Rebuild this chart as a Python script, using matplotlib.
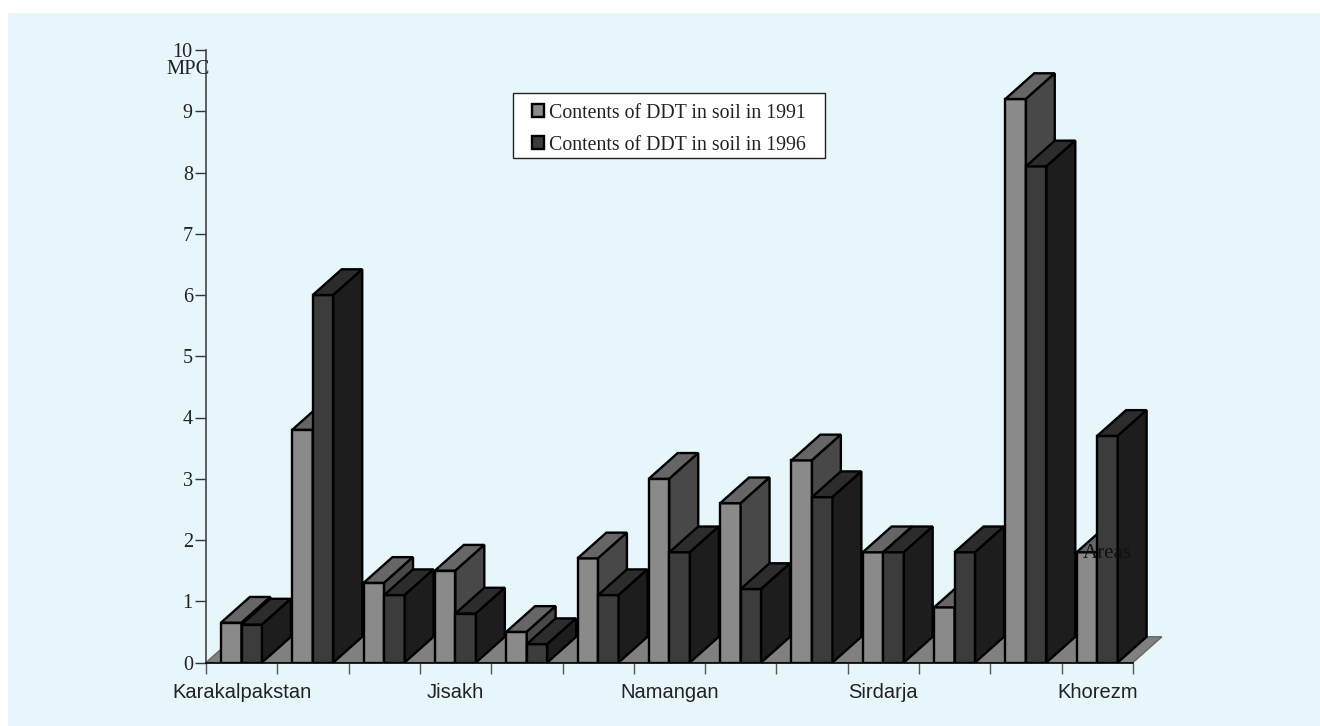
import matplotlib
matplotlib.use("Agg")
import matplotlib.pyplot as plt
from matplotlib.patches import Patch, Polygon, Rectangle

# DDT in soil, in units of MPC, per area
values_1991 = [0.65, 3.8, 1.3, 1.5, 0.5, 1.7, 3.0, 2.6, 3.3, 1.8, 0.9, 9.2, 1.8]
values_1996 = [0.62, 6.0, 1.1, 0.8, 0.3, 1.1, 1.8, 1.2, 2.7, 1.8, 1.8, 8.1, 3.7]
area_labels = ["Karakalpakstan", "", "", "Jisakh", "", "", "Namangan", "", "", "Sirdarja", "", "", "Khorezm"]
y_ticks = [0, 1, 2, 3, 4, 5, 6, 7, 8, 9, 10]

SERIF = "Liberation Serif"
SANS = "Liberation Sans"

colors_1991 = {"front": "#8a8a8a", "top": "#666666", "side": "#484848"}
colors_1996 = {"front": "#3c3c3c", "top": "#2c2c2c", "side": "#1d1d1d"}

# depth of the fake 3d projection, in data units
DX = 0.405
DY = 0.42
BAR_W = 0.288
BAR_OFF = 0.21


def draw_bar(ax, x, h, colors):
    ax.bar(x, h, BAR_W, align="edge", color=colors["front"], edgecolor="black", linewidth=1.7, zorder=3)
    top = [(x, h), (x + DX, h + DY), (x + BAR_W + DX, h + DY), (x + BAR_W, h)]
    side = [(x + BAR_W, 0), (x + BAR_W + DX, DY), (x + BAR_W + DX, h + DY), (x + BAR_W, h)]
    ax.add_patch(Polygon(top, facecolor=colors["top"], edgecolor="black", linewidth=1.7, zorder=3, clip_on=False))
    ax.add_patch(Polygon(side, facecolor=colors["side"], edgecolor="black", linewidth=1.7, zorder=3, clip_on=False))


fig = plt.figure(figsize=(13.2, 7.26), dpi=100, facecolor="white")
# panel behind the chart runs off the right and bottom edges
fig.add_artist(Rectangle((8 / 1320, 0), 1312 / 1320, 1 - 13 / 726, transform=fig.transFigure,
                         facecolor="#e6f6fb", edgecolor="none", zorder=-1))

ax = fig.add_axes([206 / 1320, 1 - 662.5 / 726, 927 / 1320, 612.5 / 726])
ax.patch.set_visible(False)
n = len(values_1991)
ax.set_xlim(0, n)
ax.set_ylim(0, 10)

# floor of the chart
floor = [(0, 0), (DX, DY), (n + DX, DY), (n, 0)]
ax.add_patch(Polygon(floor, facecolor="#808080", edgecolor="#666666", linewidth=1, zorder=1, clip_on=False))

for i in range(n):
    draw_bar(ax, i + BAR_OFF, values_1991[i], colors_1991)
    draw_bar(ax, i + BAR_OFF + BAR_W, values_1996[i], colors_1996)

for s in ["top", "right"]:
    ax.spines[s].set_visible(False)
ax.spines["left"].set_color("#444444")
ax.spines["left"].set_linewidth(1.2)
ax.spines["bottom"].set_color("black")
ax.spines["bottom"].set_linewidth(1.2)
ax.spines["bottom"].set_zorder(4)

ax.set_yticks(y_ticks)
ax.set_yticklabels([str(t) for t in y_ticks], family=SERIF, fontsize=14.5, color="#222222")
ax.tick_params(axis="y", length=8, width=1, color="#333333", pad=1.5)
ax.set_xticks(range(n + 1))
ax.set_xticklabels([])
ax.tick_params(axis="x", length=8, width=1, color="#555555")

for i, name in enumerate(area_labels):
    if name:
        ax.text(i + 0.5, -0.33, name, family=SANS, fontsize=14.5, ha="center", va="top", color="#222222", clip_on=False)

fig.text(188.5 / 1320, 1 - 70 / 726, "MPC", family=SERIF, fontsize=14.8, ha="center", va="center", color="#222222", zorder=5)
fig.text(1107 / 1320, 1 - 553 / 726, "Areas", family=SERIF, fontsize=15, ha="center", va="center", color="#111111", zorder=5)

# legend box, a little wider than the entries need
fig.add_artist(Rectangle((513 / 1320, 1 - 158 / 726), 312 / 1320, 65 / 726, transform=fig.transFigure,
                         facecolor="white", edgecolor="#222222", linewidth=1, zorder=6))
handles = [Patch(facecolor=colors_1991["front"], edgecolor="black", linewidth=1.7),
           Patch(facecolor=colors_1996["front"], edgecolor="black", linewidth=1.7)]
leg = fig.legend(handles, ["Contents of DDT in soil in 1991", "Contents of DDT in soil in 1996"],
                 loc="upper left", bbox_to_anchor=(532 / 1320, 1 - 103.5 / 726), borderaxespad=0, borderpad=0,
                 prop={"family": SERIF, "size": 14.3}, frameon=False, handlelength=0.62, handleheight=0.62,
                 handletextpad=0.25, labelspacing=0.66)
leg.set_zorder(7)
for t in leg.get_texts():
    t.set_color("#222222")

fig.savefig("out.png", dpi=100)
